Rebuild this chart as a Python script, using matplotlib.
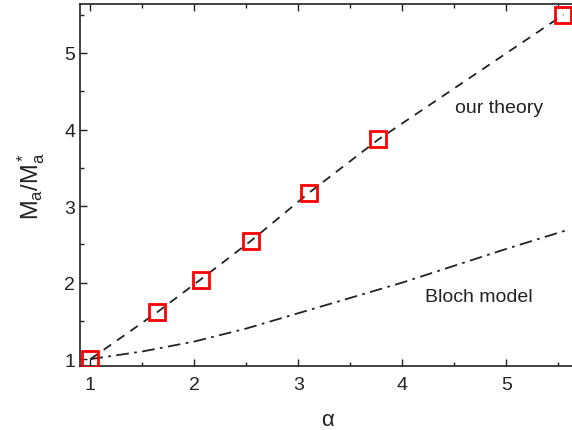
import matplotlib
matplotlib.use("Agg")
import matplotlib.pyplot as plt
from matplotlib.ticker import MultipleLocator

plt.rcParams['font.family'] = ['Liberation Sans', 'DejaVu Sans']
plt.rcParams['mathtext.fontset'] = 'custom'
plt.rcParams['mathtext.rm'] = 'Liberation Sans'
plt.rcParams['mathtext.it'] = 'Liberation Sans'

# our theory (squares + dashed line)
alpha_pts = [1.0, 1.64, 2.06, 2.54, 3.10, 3.77, 5.55]
ratio_pts = [1.0, 1.61, 2.04, 2.54, 3.17, 3.87, 5.50]

# Bloch model (dash-dot)
alpha_bloch = [1.0, 1.5, 2.0, 2.5, 3.0, 3.5, 4.0, 4.5, 5.0, 5.57]
ratio_bloch = [1.0, 1.10, 1.23, 1.40, 1.60, 1.80, 2.00, 2.22, 2.44, 2.68]

fig = plt.figure(figsize=(5.72, 4.31), dpi=100)
ax = fig.add_axes([80/572, 1 - 367/431, 497/572, 362/431])

ax.plot(alpha_pts, ratio_pts, color='#222222', lw=1.3, ls=(0, (5, 4)), zorder=2)
ax.plot(alpha_pts, ratio_pts, ls='none', marker='s', ms=11, mfc='none',
        mec='#ff0000', mew=2, zorder=3)
ax.plot(alpha_bloch, ratio_bloch, color='#222222', lw=1.3,
        ls=(0, (7, 3, 1.5, 3)), zorder=2)

ax.text(4.51, 4.29, 'our theory', fontsize=14, color='#222222', va='center')
ax.text(4.22, 1.82, 'Bloch model', fontsize=14, color='#222222', va='center')

ax.set_xlim(0.9, 5.68)
ax.set_ylim(0.91, 5.64)
ax.xaxis.set_major_locator(MultipleLocator(1))
ax.xaxis.set_minor_locator(MultipleLocator(0.5))
ax.yaxis.set_major_locator(MultipleLocator(1))
ax.yaxis.set_minor_locator(MultipleLocator(0.5))
ax.tick_params(which='both', direction='in', top=True, right=False,
               labelsize=14, colors='#222222', width=1)
ax.tick_params(which='major', length=5)
ax.tick_params(which='minor', length=3)
ax.tick_params(axis='x', pad=7)
for s in ax.spines.values():
    s.set_linewidth(1.2)
    s.set_color('#222222')

ax.set_xlabel(r'$\alpha$', fontsize=16, color='#222222', labelpad=12)
ax.set_ylabel(r'$\mathrm{M_a/M_a^*}$', fontsize=17, color='#222222', labelpad=12)

fig.savefig('out.png', dpi=100)
